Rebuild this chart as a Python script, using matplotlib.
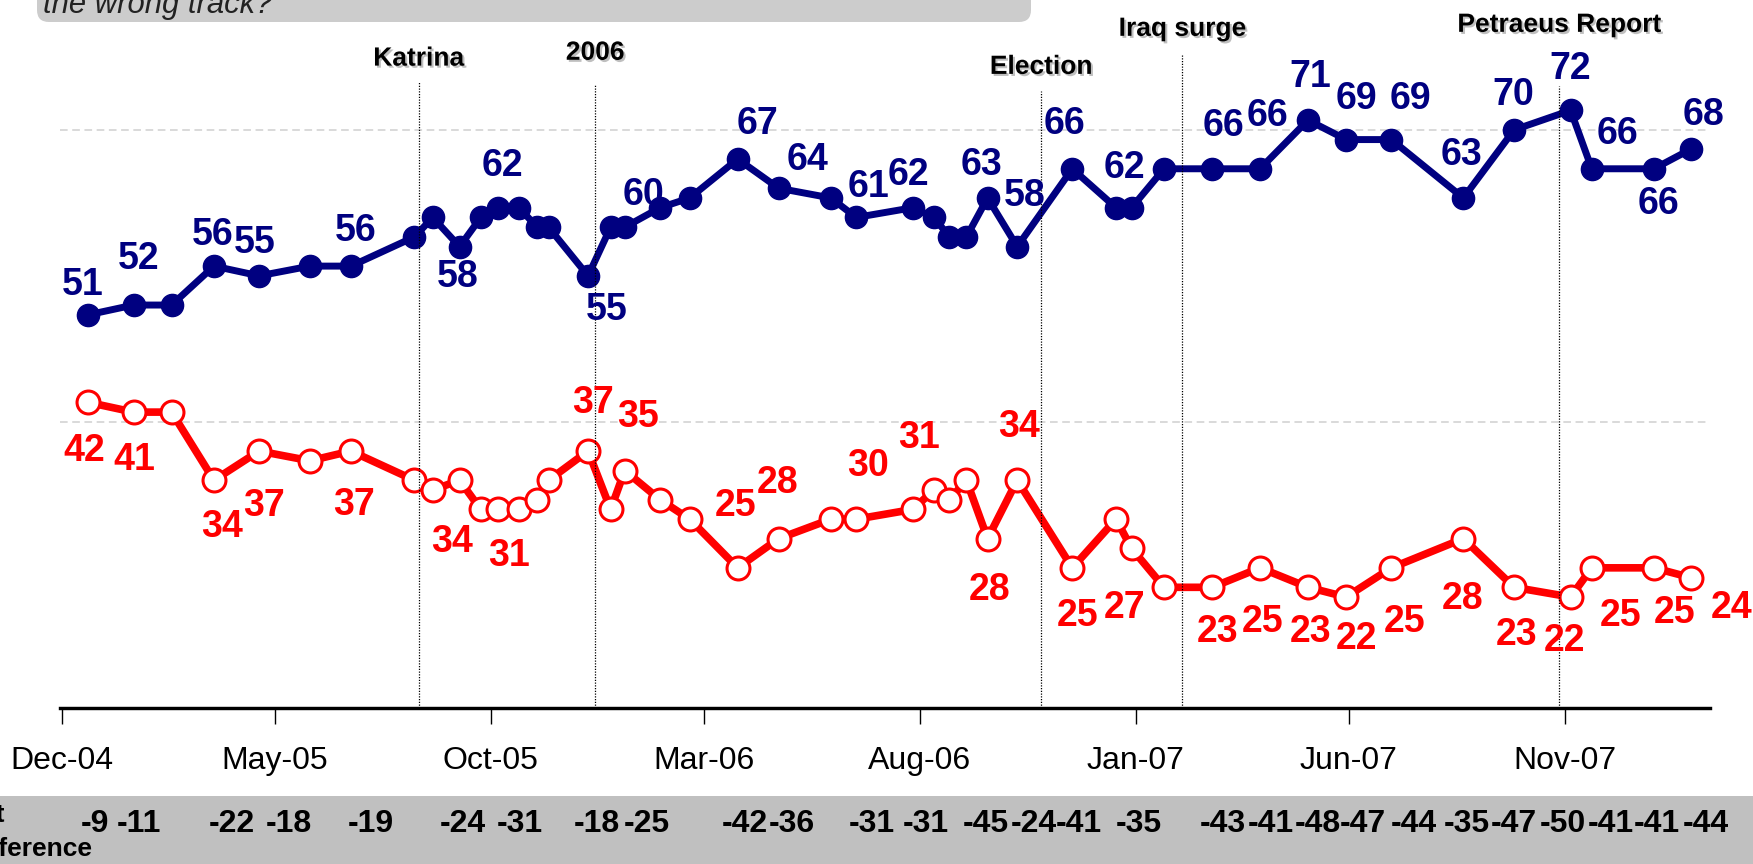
import numpy as np
import pandas as pd
import matplotlib
matplotlib.use("Agg")
import matplotlib.pyplot as plt
import matplotlib.patches as mpatches
import matplotlib.patheffects as pe
import matplotlib.dates as mdates
from matplotlib.transforms import IdentityTransform

plt.rcParams['font.family'] = ['Liberation Sans', 'DejaVu Sans']

# date dei sondaggi
poll_dates = ['2004-12-20', '2005-01-21', '2005-02-17', '2005-03-19', '2005-04-20',
              '2005-05-26', '2005-06-24', '2005-08-08', '2005-08-21', '2005-09-09',
              '2005-09-24', '2005-10-06', '2005-10-21', '2005-11-03', '2005-11-11',
              '2005-12-09', '2005-12-25', '2006-01-04', '2006-01-29', '2006-02-19',
              '2006-03-25', '2006-04-23', '2006-05-30', '2006-06-17', '2006-07-27',
              '2006-08-11', '2006-08-22', '2006-09-03', '2006-09-18', '2006-10-09',
              '2006-11-17', '2006-12-18', '2006-12-29', '2007-01-21', '2007-02-24',
              '2007-03-30', '2007-05-03', '2007-05-30', '2007-07-01', '2007-08-21',
              '2007-09-26', '2007-11-05', '2007-11-20', '2008-01-03', '2008-01-29']

wrong_track = [51, 52, 52, 56, 55, 56, 56, 59, 61, 58, 61, 62, 62, 60, 60,
               55, 60, 60, 62, 63, 67, 64, 63, 61, 62, 61, 59, 59, 63, 58,
               66, 62, 62, 66, 66, 66, 71, 69, 69, 63, 70, 72, 66, 66, 68]

right_dir = [42, 41, 41, 34, 37, 36, 37, 34, 33, 34, 31, 31, 31, 32, 34,
             37, 31, 35, 32, 30, 25, 28, 30, 30, 31, 33, 32, 34, 28, 34,
             25, 30, 27, 23, 23, 25, 23, 22, 25, 28, 23, 22, 25, 25, 24]

# punti con etichetta
labeled = [0, 1, 3, 4, 6, 9, 11, 15, 17, 20, 21, 23, 24, 28, 29, 30, 32,
           34, 35, 36, 37, 38, 39, 40, 41, 42, 43, 44]

net_diff = ['-9', '-11', '-22', '-18', '-19', '-24', '-31', '-18', '-25', '-42',
            '-36', '-31', '-31', '-45', '-24', '-41', '-35', '-43', '-41', '-48',
            '-47', '-44', '-35', '-47', '-50', '-41', '-41', '-44']

tick_dates = ['2004-12-01', '2005-05-01', '2005-10-01', '2006-03-01',
              '2006-08-01', '2007-01-01', '2007-06-01', '2007-11-01']
tick_labels = ['Dec-04', 'May-05', 'Oct-05', 'Mar-06', 'Aug-06', 'Jan-07', 'Jun-07', 'Nov-07']

events = ['Katrina', '2006', 'Election', 'Iraq surge', 'Petraeus Report']
event_dates = ['2005-08-11', '2005-12-14', '2006-10-26', '2007-02-03', '2007-10-28']

# layout (pixel offsets etichette)
blue_off = [(-6, 30), (5, 46), (-1.5, 31), (-4.6, 32.6), (5, 35.3), (-1.5, -30.4),
            (4.9, 42), (19.1, -34), (19.2, 31.7), (19.5, 35), (28.7, 28.4), (12.2, 30.6),
            (-4.6, 32.7), (-6.4, 33.3), (7.6, 50.3), (-8.1, 44.3), (-7.5, 39.3),
            (11.3, 42.4), (7.9, 52.4), (2, 43.6), (10.4, 41), (19.5, 41), (-2.1, 42.7),
            (-0.4, 35), (-0.8, 41), (25.8, 35), (5, -35), (13.3, 34.7)]
red_off = [(-4.2, -48.3), (0.4, -47.4), (7.7, -46.7), (5.3, -55), (2.7, -54.4),
           (-7.2, -61.7), (11.5, -47), (5, 47.7), (13.4, 53.7), (-1.9, 62), (-1.2, 56),
           (11.8, 53.4), (6.5, 71), (1.5, -51.3), (1.9, 53), (5, -47.7), (-7, -60),
           (5.4, -44.7), (2.5, -54), (2.5, -44.7), (10.8, -41.7), (13.7, -54),
           (-1.2, -60.3), (2.4, -48), (-6.2, -44), (28.7, -47.7), (20.4, -44.7),
           (40.8, -30.3)]
diff_off = [7, 5.6, 18, 29.6, 19.5, 3.4, 22.3, 9.3, 22.5, 7, 13, 15.5, 13.5, -2,
            16.6, 6.3, 7, 11, 11, 9.6, 17, 22.8, 3, 0, -8, 18.7, 3.4, 15]
event_tops = [75.0, 74.7, 74.0, 77.8, 74.5]
event_text_y = [76.6, 77.2, 75.75, 79.66, 80.07]

x = mdates.date2num(pd.to_datetime(poll_dates).to_pydatetime())
xt = mdates.date2num(pd.to_datetime(tick_dates).to_pydatetime())
xe = mdates.date2num(pd.to_datetime(event_dates).to_pydatetime())

navy = '#000080'
rosso = '#ff0000'

fig = plt.figure(figsize=(17.53, 8.64), dpi=100)

# banda grigia in basso e box del titolo
fig.add_artist(mpatches.Rectangle((0, 0), 1, 68 / 864, transform=fig.transFigure,
                                  facecolor='#c0c0c0', edgecolor='none', zorder=-1))
fig.add_artist(mpatches.FancyBboxPatch((37, 842), 994, 80,
                                       boxstyle='round,pad=0,rounding_size=12',
                                       transform=IdentityTransform(),
                                       facecolor='#cccccc', edgecolor='none', zorder=-1))
fig.text(43 / 1753, 851 / 864, 'the wrong track?', style='italic', fontsize=22.3,
         color='#222222', va='baseline', ha='left')

ax = fig.add_axes([0.03428, 0.18056, 0.9414, 0.8111])
ax.set_facecolor('none')

ax.plot(x, wrong_track, color=navy, lw=5, marker='o', ms=16,
        mfc=navy, mec=navy, zorder=4)
ax.plot(x, right_dir, color=rosso, lw=5.5, marker='o', ms=16.5,
        mfc='white', mec=rosso, mew=2.2, zorder=4)

ax.set_xlim(mdates.date2num(pd.Timestamp('2004-11-30')), mdates.date2num(pd.Timestamp('2008-02-12')))
ax.set_ylim(10.6, 82.6)

for s in ['top', 'left', 'right']:
    ax.spines[s].set_visible(False)
ax.spines['bottom'].set_linewidth(2.45)
ax.spines['bottom'].set_color('black')

ax.set_yticks([40, 70])
ax.tick_params(axis='y', left=False, labelleft=False)
ax.grid(axis='y', color='#d0d0d0', lw=1.1, linestyle=(0, (5, 3)))
ax.set_axisbelow(True)

ax.set_xticks(xt)
ax.set_xticklabels(tick_labels, fontsize=23)
ax.tick_params(axis='x', direction='out', length=11.5, width=1, pad=16, colors='black')

# linee degli eventi
ax.vlines(xe, 10.6, event_tops, colors='black', linestyles=(0, (1, 1.2)), lw=0.9, zorder=5)
for nome, xx, yy in zip(events, xe, event_text_y):
    ax.text(xx, yy, nome, ha='center', va='baseline', fontsize=19, fontweight='bold',
            color='black', clip_on=False,
            path_effects=[pe.withSimplePatchShadow(offset=(1.5, -1.5),
                                                   shadow_rgbFace=(0.5, 0.5, 0.5), alpha=0.5)])

# etichette dei valori
for k, i in enumerate(labeled):
    ax.annotate(str(wrong_track[i]), xy=(x[i], wrong_track[i]), xytext=blue_off[k],
                textcoords='offset pixels', ha='center', va='center', fontsize=27,
                fontweight='bold', color=navy, zorder=6, annotation_clip=False)
    ax.annotate(str(right_dir[i]), xy=(x[i], right_dir[i]), xytext=red_off[k],
                textcoords='offset pixels', ha='center', va='center', fontsize=27,
                fontweight='bold', color=rosso, zorder=6, annotation_clip=False)
    ax.annotate(net_diff[k], xy=(x[i], 32 / 864), xycoords=('data', 'figure fraction'),
                xytext=(diff_off[k], 0), textcoords='offset pixels', ha='center',
                va='baseline', fontsize=23, fontweight='bold', color='black',
                annotation_clip=False)

fig.text(5 / 1753, 42 / 864, 'Net', ha='right', va='baseline', fontsize=19, fontweight='bold')
fig.text(92 / 1753, 8 / 864, 'Difference', ha='right', va='baseline', fontsize=19, fontweight='bold')

fig.savefig('out.png', dpi=100)
